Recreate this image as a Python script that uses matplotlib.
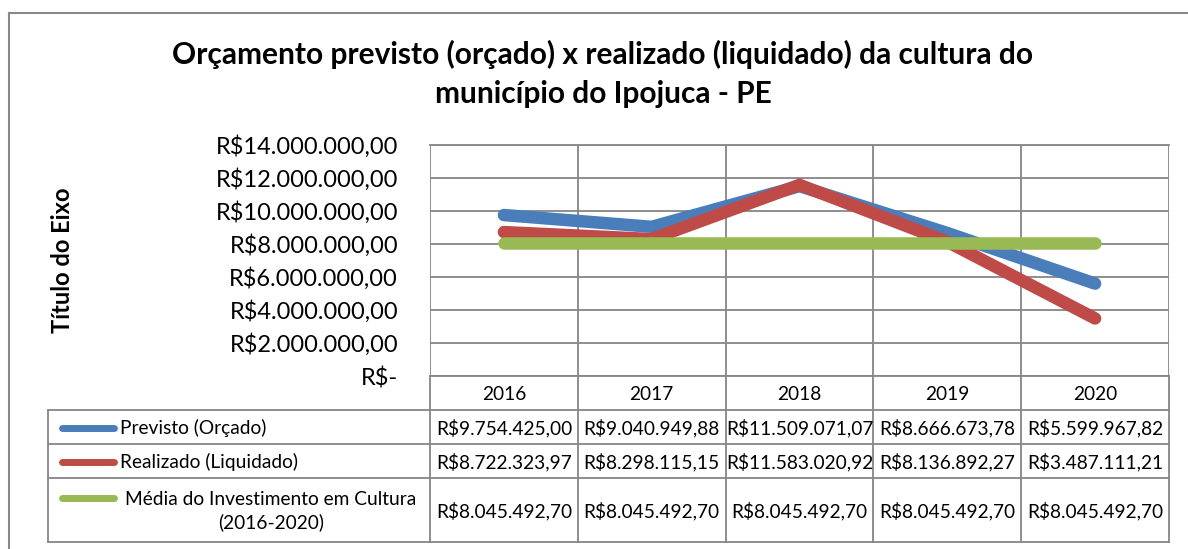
import matplotlib
matplotlib.use("Agg")
import matplotlib.pyplot as plt
from matplotlib.lines import Line2D

plt.rcParams['font.family'] = ['Lato', 'DejaVu Sans']

# ---- data ----
years = ["2016", "2017", "2018", "2019", "2020"]
previsto = [9754425.00, 9040949.88, 11509071.07, 8666673.78, 5599967.82]
realizado = [8722323.97, 8298115.15, 11583020.92, 8136892.27, 3487111.21]
media = [8045492.70, 8045492.70, 8045492.70, 8045492.70, 8045492.70]
series_names = ["Previsto (Orçado)", "Realizado (Liquidado)",
                "Média do Investimento em Cultura\n(2016-2020)"]
series_colors = ["#4A7EBB", "#BE4B48", "#98B954"]
y_ticks = [0, 2000000, 4000000, 6000000, 8000000, 10000000, 12000000, 14000000]
title = "Orçamento previsto (orçado) x realizado (liquidado) da cultura do\nmunicípio do Ipojuca - PE"
y_label = "Título do Eixo"


def brl(v):
    if v == 0:
        return "R$-"
    s = f"{v:,.2f}"
    s = s.replace(",", "X").replace(".", ",").replace("X", ".")
    return "R$" + s


W, H = 1188, 549
fig = plt.figure(figsize=(W / 100, H / 100), dpi=100)

# overlay axes in pixel coordinates
ov = fig.add_axes([0, 0, 1, 1])
ov.set_xlim(0, W)
ov.set_ylim(H, 0)
ov.axis("off")

# plot area in pixels
L, R, T, B = 430, 1169, 145, 376
ax = fig.add_axes([L / W, 1 - B / H, (R - L) / W, (B - T) / H])
ax.set_zorder(2)
ov.set_zorder(1)
ax.patch.set_alpha(0)

grid_c = "#868686"
x = list(range(len(years)))
for vals, c in zip([previsto, realizado, media], series_colors):
    ax.plot(x, vals, color=c, lw=9, solid_capstyle="round",
            solid_joinstyle="miter", zorder=3)
ax.set_xlim(-0.5, len(years) - 0.5)
ax.set_ylim(0, 14000000)
ax.set_yticks(y_ticks)
ax.set_yticklabels([brl(v) for v in y_ticks], fontsize=17)
ax.tick_params(axis="y", length=0, pad=23)
ax.set_xticks([])
ax.grid(axis="y", color=grid_c, lw=1.3)
for xb in [i - 0.5 for i in range(len(years) + 1)]:
    ax.axvline(xb, color=grid_c, lw=1.3, zorder=1)
for s in ax.spines.values():
    s.set_visible(False)
ax.spines["top"].set_visible(True)
ax.spines["top"].set_color(grid_c)
ax.spines["top"].set_linewidth(1.3)

# outer frame
ov.plot([9, 9], [13, H], color="#898989", lw=1.5)
ov.plot([9, W], [13, 13], color="#898989", lw=1.5)

# title and axis label
ov.text(603, 74, title, ha="center", va="center", fontsize=21.5,
        fontweight="bold", linespacing=1.45)
ov.text(62, 260, y_label, ha="center", va="center", rotation=90,
        fontsize=17, fontweight="bold")

# data table
colw = (R - L) / len(years)
row_y = [376, 410, 444, 478, 542]
TL = 48
tc = grid_c
fs = 13.8
for i in range(len(years) + 1):
    xb = L + i * colw
    ov.plot([xb, xb], [row_y[0], row_y[-1]], color=tc, lw=1.3)
for yb in row_y[1:]:
    ov.plot([TL, R], [yb, yb], color=tc, lw=1.3)
ov.plot([L, R], [row_y[0], row_y[0]], color=tc, lw=1.3)
ov.plot([TL, TL], [row_y[1], row_y[-1]], color=tc, lw=1.3)
for i, yr in enumerate(years):
    ov.text(L + (i + 0.5) * colw, (row_y[0] + row_y[1]) / 2 + 1, yr,
            ha="center", va="center", fontsize=fs)
for r, (vals, name, c) in enumerate(zip([previsto, realizado, media],
                                        series_names, series_colors)):
    yc = (row_y[r + 1] + row_y[r + 2]) / 2 + 1
    ky = yc - 13 if r == 2 else yc
    ov.add_line(Line2D([62, 114], [ky, ky], color=c,
                       lw=5, solid_capstyle="round"))
    if r == 2:
        ov.text(271, yc, name, ha="center", va="center", fontsize=fs,
                linespacing=1.3)
    else:
        ov.text(120, yc, name, ha="left", va="center", fontsize=fs)
    for i, v in enumerate(vals):
        ov.text(L + (i + 0.5) * colw, yc, brl(v), ha="center", va="center",
                fontsize=fs)

fig.savefig("out.png", dpi=100)
